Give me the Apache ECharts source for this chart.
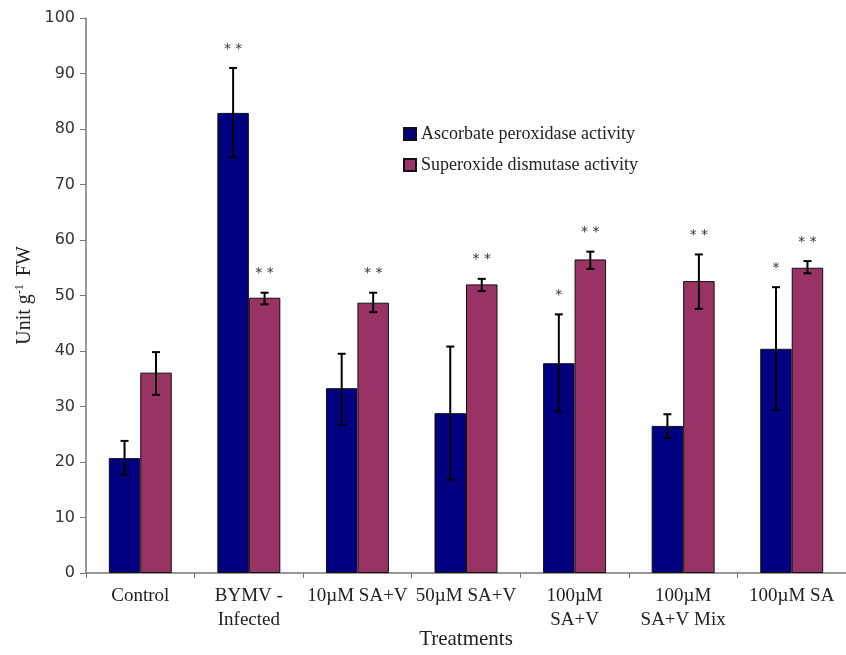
<!DOCTYPE html>
<html>
<head>
<meta charset="utf-8">
<script src="https://cdn.jsdelivr.net/npm/echarts@6/dist/echarts.min.js"></script>
<style>html,body{margin:0;padding:0;background:#fff;}#c{width:846px;height:655px;}</style>
</head>
<body>
<div id="c"></div>
<script>
const categories = ['Control', 'BYMV -\nInfected', '10µM SA+V', '50µM SA+V', '100µM\nSA+V', '100µM\nSA+V Mix', '100µM SA'];
const apx = [20.7, 82.9, 33.3, 28.8, 37.8, 26.5, 40.4];
const apxLow = [17.7, 74.9, 26.7, 16.8, 29.1, 24.3, 29.4];
const apxHigh = [23.8, 91.0, 39.5, 40.8, 46.6, 28.6, 51.5];
const sod = [36.1, 49.6, 48.7, 52.0, 56.5, 52.6, 55.0];
const sodLow = [32.1, 48.4, 47.0, 50.8, 54.8, 47.6, 54.0];
const sodHigh = [39.8, 50.5, 50.5, 53.0, 57.9, 57.4, 56.2];
const apxStars = ['', '* *', '', '', '*', '', '*'];
const sodStars = ['', '* *', '* *', '* *', '* *', '* *', '* *'];
const yTicks = [0, 10, 20, 30, 40, 50, 60, 70, 80, 90, 100];

const BAR_FRAC = 0.29;
function makeRender(side, stars) {
  return function (params, api) {
    const i = api.value(0);
    const lo = api.coord([i, api.value(1)]);
    const hi = api.coord([i, api.value(2)]);
    const bw = api.size([1, 0])[0] * BAR_FRAC;
    const x = lo[0] + side * bw / 2;
    const cap = 4;
    const st = { stroke: '#000', lineWidth: 2 };
    const children = [
      { type: 'line', shape: { x1: x, y1: lo[1], x2: x, y2: hi[1] }, style: st },
      { type: 'line', shape: { x1: x - cap, y1: lo[1], x2: x + cap, y2: lo[1] }, style: st },
      { type: 'line', shape: { x1: x - cap, y1: hi[1], x2: x + cap, y2: hi[1] }, style: st }
    ];
    const s = stars[params.dataIndex];
    if (s) {
      children.push({ type: 'text', style: { text: s, x: x, y: hi[1] - 19, textAlign: 'center', textVerticalAlign: 'middle', fontSize: 14, fill: '#333', fontFamily: 'DejaVu Sans' } });
    }
    return { type: 'group', children: children };
  };
}

const chart = echarts.init(document.getElementById('c'));
chart.setOption({
  animation: false,
  backgroundColor: '#fff',
  grid: { left: 86, right: 0, top: 18, bottom: 82, containLabel: false, outerBoundsMode: 'none' },
  legend: {
    data: ['Ascorbate peroxidase activity', 'Superoxide dismutase activity'],
    orient: 'vertical', left: 398, top: 120, itemWidth: 12, itemHeight: 12, itemGap: 13,
    icon: 'rect',
    textStyle: { fontFamily: 'Liberation Serif', fontSize: 18, color: '#222' }
  },
  xAxis: {
    type: 'category', data: categories,
    name: 'Treatments', nameLocation: 'middle', nameGap: 56, nameMoveOverlap: false,
    nameTextStyle: { fontFamily: 'Liberation Serif', fontSize: 21, color: '#222' },
    axisLine: { lineStyle: { color: '#777', width: 1.5 } },
    axisTick: { show: true, length: 5, lineStyle: { color: '#777' } },
    axisLabel: { interval: 0, fontFamily: 'Liberation Serif', fontSize: 19, color: '#222', margin: 11, lineHeight: 24 }
  },
  yAxis: {
    type: 'value', min: 0, max: 100, interval: 10,
    name: 'Unit g{sup|-1} FW', nameLocation: 'middle', nameGap: 50, nameMoveOverlap: false,
    nameTextStyle: { fontFamily: 'Liberation Serif', fontSize: 20, color: '#222',
      rich: { sup: { fontFamily: 'Liberation Serif', fontSize: 12, color: '#222', verticalAlign: 'top', padding: [0, 3, 10, 0] } } },
    splitLine: { show: false },
    axisLine: { show: true, lineStyle: { color: '#777', width: 1.5 } },
    axisTick: { show: true, length: 6, lineStyle: { color: '#777' } },
    axisLabel: { fontFamily: 'DejaVu Sans', fontSize: 16, color: '#333', margin: 11,
      formatter: function (v) { return yTicks.indexOf(v) >= 0 ? String(v) : ''; } }
  },
  series: [
    { name: 'Ascorbate peroxidase activity', type: 'bar', data: apx, barWidth: (BAR_FRAC * 100) + '%', barGap: '0%',
      itemStyle: { color: '#000080', borderColor: '#111', borderWidth: 1 } },
    { name: 'Superoxide dismutase activity', type: 'bar', data: sod, barWidth: (BAR_FRAC * 100) + '%', barGap: '0%',
      itemStyle: { color: '#993366', borderColor: '#111', borderWidth: 1 } },
    { name: 'apxErr', type: 'custom', z: 5, renderItem: makeRender(-1, apxStars),
      data: categories.map((c, i) => [i, apxLow[i], apxHigh[i]]) },
    { name: 'sodErr', type: 'custom', z: 5, renderItem: makeRender(1, sodStars),
      data: categories.map((c, i) => [i, sodLow[i], sodHigh[i]]) }
  ]
});
</script>
</body>
</html>
